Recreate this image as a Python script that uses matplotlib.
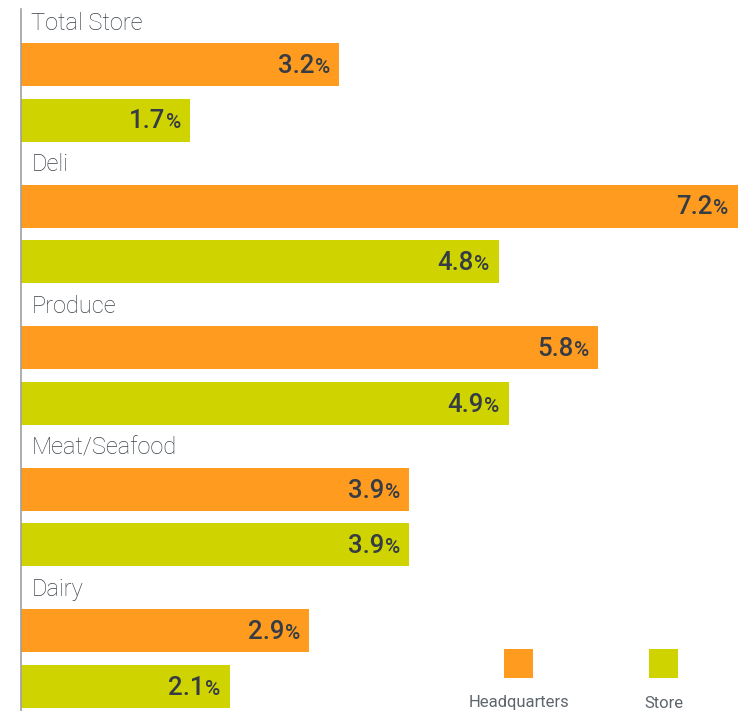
import matplotlib.pyplot as plt
from matplotlib.patches import Rectangle

categories = ["Total Store", "Deli", "Produce", "Meat/Seafood", "Dairy"]
headquarters = [3.2, 7.2, 5.8, 3.9, 2.9]
store = [1.7, 4.8, 4.9, 3.9, 2.1]
series_names = ["Headquarters", "Store"]

HQ_COLOR = "#FF9B1E"
STORE_COLOR = "#CFD400"
VALUE_COLOR = "#353C45"
LABEL_COLOR = "#3A4149"
LEGEND_COLOR = "#5E656C"
FONT = ["Roboto", "DejaVu Sans"]

W, H = 744, 711
fig = plt.figure(figsize=(W / 100, H / 100), dpi=100)

# axes starts at the vertical rule; x in percent, y in group units
x0 = 20.5
px_per_unit = 99.6
pitch = 141.6
first_center = 64.5
ax = fig.add_axes([x0 / W, 0, 1 - x0 / W, 1])
ax.set_xlim(0, (W - x0) / px_per_unit)
ax.set_ylim((H - first_center) / pitch, -first_center / pitch)

store_offset = 55.5 / pitch
bar_h = 43 / pitch
label_offset = (first_center - 23) / pitch

hq_pos = [i for i in range(len(categories))]
st_pos = [i + store_offset for i in range(len(categories))]

ax.barh(hq_pos, headquarters, height=bar_h, color=HQ_COLOR, linewidth=0)
ax.barh(st_pos, store, height=bar_h, color=STORE_COLOR, linewidth=0)

for i, name in enumerate(categories):
    ax.text(0.11, i - label_offset, name, ha="left", va="center",
            fontsize=17, fontweight="light", color=LABEL_COLOR, family=FONT)

# value labels: number plus a smaller percent sign, right-aligned inside the bar
pct_texts = []
for pos, vals in ((hq_pos, headquarters), (st_pos, store)):
    for y, v in zip(pos, vals):
        pct = ax.annotate("%", xy=(v, y), xytext=(-6.5, -6.0), textcoords="offset points",
                          ha="right", va="baseline", fontsize=15, fontweight="medium",
                          color=VALUE_COLOR, family=FONT)
        pct_texts.append((pct, v, y))

fig.canvas.draw()
renderer = fig.canvas.get_renderer()
for pct, v, y in pct_texts:
    w = pct.get_window_extent(renderer).width * 72 / fig.dpi
    ax.annotate(f"{v:.1f}", xy=(v, y), xytext=(-6.5 - w - 0.3, -6.0), textcoords="offset points",
                ha="right", va="baseline", fontsize=18.5, fontweight="medium",
                color=VALUE_COLOR, family=FONT)

for side in ("top", "right", "bottom"):
    ax.spines[side].set_visible(False)
ax.spines["left"].set_color("#A0A0A0")
ax.spines["left"].set_linewidth(1.2)
ax.spines["left"].set_bounds((9 - first_center) / pitch, (H - first_center) / pitch)
ax.set_xticks([])
ax.set_yticks([])

# legend: square swatch above each series name
colors = [HQ_COLOR, STORE_COLOR]
centers = [519, 664]
for name, c, cx in zip(series_names, colors, centers):
    fig.add_artist(Rectangle(((cx - 15) / W, 1 - 678 / H), 29 / W, 29 / H,
                             transform=fig.transFigure, color=c, linewidth=0))
    fig.text(cx / W, 1 - 703 / H, name, ha="center", va="center", fontsize=12,
             fontweight="normal", color=LEGEND_COLOR, family=FONT)

fig.savefig("out.png", dpi=100)
